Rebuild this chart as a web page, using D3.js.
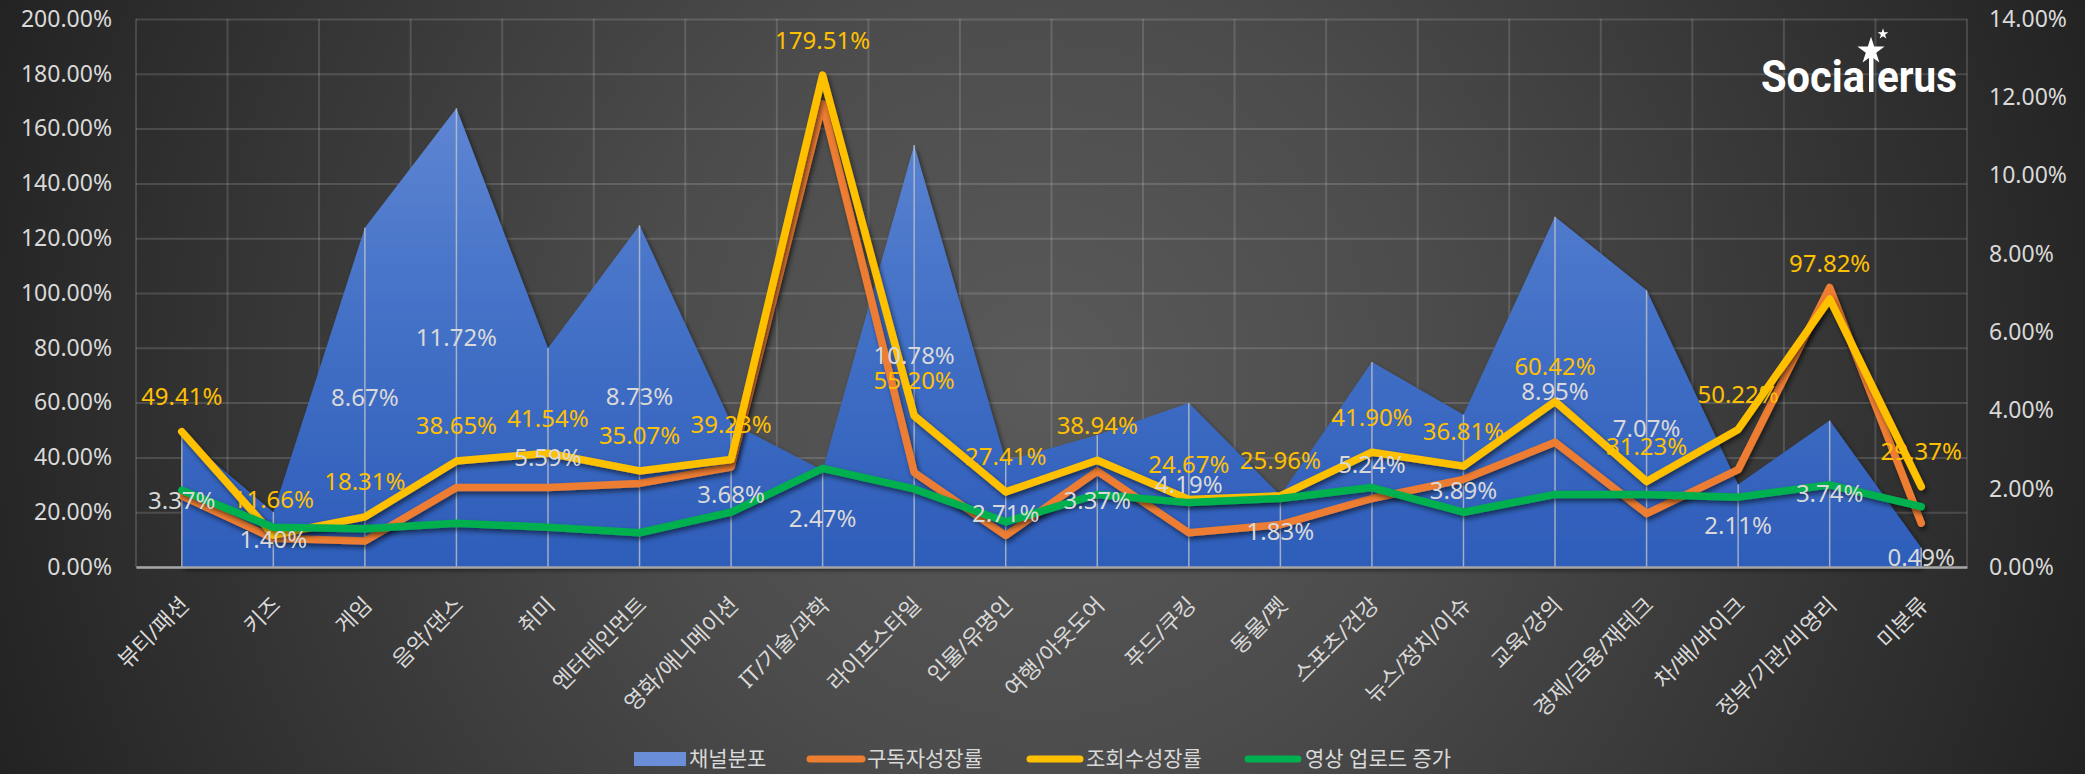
<!DOCTYPE html>
<html>
<head>
<meta charset="utf-8">
<script src="https://cdn.jsdelivr.net/npm/d3@7"></script>
<style>
  body { margin: 0; background: #222; }
  svg text { font-family: 'Noto Sans', 'Noto Sans CJK KR', sans-serif; }
</style>
</head>
<body>
<div id="chart"></div>
<script>
// categories (x axis)
const categories = ['뷰티/패션', '키즈', '게임', '음악/댄스', '취미', '엔터테인먼트', '영화/애니메이션',
  'IT/기술/과학', '라이프스타일', '인물/유명인', '여행/아웃도어', '푸드/쿠킹', '동물/펫', '스포츠/건강',
  '뉴스/정치/이슈', '교육/강의', '경제/금융/재테크', '차/배/바이크', '정부/기관/비영리', '미분류'];

// 채널분포 (right axis, %)
const channelShare = [3.37, 1.40, 8.67, 11.72, 5.59, 8.73, 3.68, 2.47, 10.78, 2.71,
  3.37, 4.19, 1.83, 5.24, 3.89, 8.95, 7.07, 2.11, 3.74, 0.49];
// 구독자성장률 (left axis, %), no labels
const subGrowth = [26, 10.5, 9.5, 29, 29, 30.5, 36.5, 169, 34.5, 11.5,
  35, 12.5, 15.5, 25, 32, 45.5, 19.5, 35.5, 102, 16];
// 조회수성장률 (left axis, %)
const viewGrowth = [49.41, 11.66, 18.31, 38.65, 41.54, 35.07, 39.23, 179.51, 55.20, 27.41,
  38.94, 24.67, 25.96, 41.90, 36.81, 60.42, 31.23, 50.22, 97.82, 29.37];
// 영상 업로드 증가 (left axis, %) - estimated
const uploadGrowth = [28, 14.5, 14, 16, 14.5, 12.5, 20, 36, 28.5, 16.5,
  26.5, 23.5, 25, 29, 20, 26.5, 26.5, 25.5, 30, 22];

const leftTicks = [0, 20, 40, 60, 80, 100, 120, 140, 160, 180, 200];
const rightTicks = [0, 2, 4, 6, 8, 10, 12, 14];

const W = 2085, H = 774;
const plot = {left: 136, right: 1967, top: 19, bottom: 567};

const svg = d3.select('#chart').append('svg')
    .attr('width', W)
    .attr('height', H);

const defs = svg.append('defs');

// background radial gradient
const bg = defs.append('radialGradient')
    .attr('id', 'bg')
    .attr('gradientUnits', 'userSpaceOnUse')
    .attr('cx', 1040).attr('cy', 380).attr('r', 1120);
bg.append('stop').attr('offset', 0).attr('stop-color', '#5a5a5a');
bg.append('stop').attr('offset', 0.35).attr('stop-color', '#4c4c4c');
bg.append('stop').attr('offset', 0.88).attr('stop-color', '#2a2a2a');
bg.append('stop').attr('offset', 1).attr('stop-color', '#222222');

// blue area gradient
const ag = defs.append('linearGradient')
    .attr('id', 'areaFill')
    .attr('gradientUnits', 'userSpaceOnUse')
    .attr('x1', 0).attr('y1', plot.top).attr('x2', 0).attr('y2', plot.bottom);
ag.append('stop').attr('offset', 0).attr('stop-color', '#6a8fd8');
ag.append('stop').attr('offset', 0.5).attr('stop-color', '#4673c8');
ag.append('stop').attr('offset', 1).attr('stop-color', '#2d5db9');

// drop shadow
const sh = defs.append('filter').attr('id', 'shadow')
    .attr('x', '-10%').attr('y', '-10%').attr('width', '120%').attr('height', '130%');
sh.append('feDropShadow')
    .attr('dx', 2).attr('dy', 3).attr('stdDeviation', 2.5)
    .attr('flood-color', '#000').attr('flood-opacity', 0.55);

svg.append('rect').attr('width', W).attr('height', H).attr('fill', 'url(#bg)');

// scales
const x = d3.scaleBand().domain(categories).range([plot.left, plot.right]);
const cx = d => x(d) + x.bandwidth() / 2;
const yL = d3.scaleLinear().domain([0, 200]).range([plot.bottom, plot.top]);
const yR = d3.scaleLinear().domain([0, 14]).range([plot.bottom, plot.top]);

const gridColor = 'rgba(255,255,255,0.14)';

// horizontal gridlines
svg.append('g')
    .attr('transform', `translate(${plot.left},0)`)
    .call(d3.axisLeft(yL).tickValues(leftTicks).tickSize(-(plot.right - plot.left)).tickFormat(''))
    .call(g => g.select('.domain').remove())
    .call(g => g.selectAll('line').attr('stroke', gridColor).attr('stroke-width', 2));

// vertical gridlines at band edges
svg.append('g')
    .selectAll('line')
    .data(d3.range(categories.length + 1))
    .join('line')
    .attr('x1', i => plot.left + i * x.step())
    .attr('x2', i => plot.left + i * x.step())
    .attr('y1', plot.top).attr('y2', plot.bottom)
    .attr('stroke', gridColor).attr('stroke-width', 2);

// area (채널분포)
const areaData = categories.map((c, i) => ({c, v: channelShare[i]}));
svg.append('path')
    .datum(areaData)
    .attr('d', d3.area().x(d => cx(d.c)).y0(yR(0)).y1(d => yR(d.v)))
    .attr('fill', 'url(#areaFill)')
    .attr('filter', 'url(#shadow)');

// drop lines inside area
svg.append('g')
    .selectAll('line')
    .data(areaData)
    .join('line')
    .attr('x1', d => cx(d.c)).attr('x2', d => cx(d.c))
    .attr('y1', d => yR(d.v)).attr('y2', yR(0))
    .attr('stroke', '#c8c8c8').attr('stroke-opacity', 0.75).attr('stroke-width', 1.5);

// bottom axis (categories)
svg.append('g')
    .attr('transform', `translate(0,${plot.bottom})`)
    .call(d3.axisBottom(x).tickSize(0))
    .call(g => g.select('.domain').attr('stroke', '#a6a6a6').attr('stroke-width', 2.5))
    .call(g => g.selectAll('text')
        .attr('x', 0).attr('y', 0).attr('dy', '0.35em')
        .attr('transform', 'translate(3,34) rotate(-45)')
        .attr('text-anchor', 'end')
        .attr('fill', '#d9d9d9')
        .style('font-size', '22px'));

// left axis labels
svg.append('g')
    .attr('transform', `translate(${plot.left},0)`)
    .call(d3.axisLeft(yL).tickValues(leftTicks).tickSize(0).tickPadding(24).tickFormat(d => d.toFixed(2) + '%'))
    .call(g => g.select('.domain').remove())
    .call(g => g.selectAll('text').attr('fill', '#d9d9d9').style('font-size', '23px'));

// right axis labels
svg.append('g')
    .attr('transform', `translate(${plot.right},0)`)
    .call(d3.axisRight(yR).tickValues(rightTicks).tickSize(0).tickPadding(22).tickFormat(d => d.toFixed(2) + '%'))
    .call(g => g.select('.domain').remove())
    .call(g => g.selectAll('text').attr('fill', '#d9d9d9').style('font-size', '23px'));

// lines
const lineSeries = [
  {name: '구독자성장률', values: subGrowth, color: '#ED7D31'},
  {name: '조회수성장률', values: viewGrowth, color: '#FFC000'},
  {name: '영상 업로드 증가', values: uploadGrowth, color: '#00B050'}
];
const lineGen = d3.line().x((d, i) => cx(categories[i])).y(d => yL(d));

svg.append('g')
    .selectAll('path')
    .data(lineSeries)
    .join('path')
    .attr('d', d => lineGen(d.values))
    .attr('fill', 'none')
    .attr('stroke', d => d.color)
    .attr('stroke-width', 7.5)
    .attr('stroke-linejoin', 'round')
    .attr('stroke-linecap', 'round')
    .attr('filter', 'url(#shadow)');

// area labels (centred in the area)
svg.append('g')
    .selectAll('text')
    .data(areaData)
    .join('text')
    .attr('x', d => cx(d.c))
    .attr('y', d => yR(d.v / 2))
    .attr('dy', '0.35em')
    .attr('text-anchor', 'middle')
    .attr('fill', '#d9d9d9')
    .style('font-size', '24px')
    .text(d => d.v.toFixed(2) + '%');

// view growth labels (above)
svg.append('g')
    .selectAll('text')
    .data(viewGrowth)
    .join('text')
    .attr('x', (d, i) => cx(categories[i]))
    .attr('y', d => yL(d) - 35)
    .attr('dy', '0.35em')
    .attr('text-anchor', 'middle')
    .attr('fill', '#FFC000')
    .style('font-size', '24px')
    .text(d => d.toFixed(2) + '%');

// legend
const legend = svg.append('g').attr('transform', 'translate(0,759)');
legend.append('rect')
    .attr('x', 634).attr('y', -7).attr('width', 52).attr('height', 14)
    .attr('fill', 'url(#areaFill)');
legend.append('text').attr('x', 689).attr('dy', '0.35em').attr('fill', '#d9d9d9')
    .style('font-size', '21px').text('채널분포');
const legendLines = [
  {x1: 810, x2: 862, tx: 867},
  {x1: 1030, x2: 1080, tx: 1086},
  {x1: 1248, x2: 1298, tx: 1305}
];
lineSeries.forEach((s, i) => {
  const p = legendLines[i];
  legend.append('line')
      .attr('x1', p.x1).attr('x2', p.x2)
      .attr('stroke', s.color).attr('stroke-width', 7).attr('stroke-linecap', 'round');
  legend.append('text').attr('x', p.tx).attr('dy', '0.35em').attr('fill', '#d9d9d9')
      .style('font-size', '21px').text(s.name);
});

// logo
const logo = svg.append('g').attr('fill', '#fff');
logo.append('text').attr('x', 1761).attr('y', 92)
    .attr('textLength', 104).attr('lengthAdjust', 'spacingAndGlyphs')
    .style('font-family', 'Roboto').style('font-weight', 700).style('font-size', '45px')
    .text('Socia');
logo.append('rect').attr('x', 1869).attr('y', 52).attr('width', 4.5).attr('height', 40);
logo.append('text').attr('x', 1877).attr('y', 92)
    .attr('textLength', 80).attr('lengthAdjust', 'spacingAndGlyphs')
    .style('font-family', 'Roboto').style('font-weight', 700).style('font-size', '45px')
    .text('erus');
logo.append('path')
    .attr('d', d3.symbol(d3.symbolStar, 230)())
    .attr('transform', 'translate(1871,51)');
logo.append('path')
    .attr('d', d3.symbol(d3.symbolStar, 36)())
    .attr('transform', 'translate(1883,34)');
</script>
</body>
</html>
